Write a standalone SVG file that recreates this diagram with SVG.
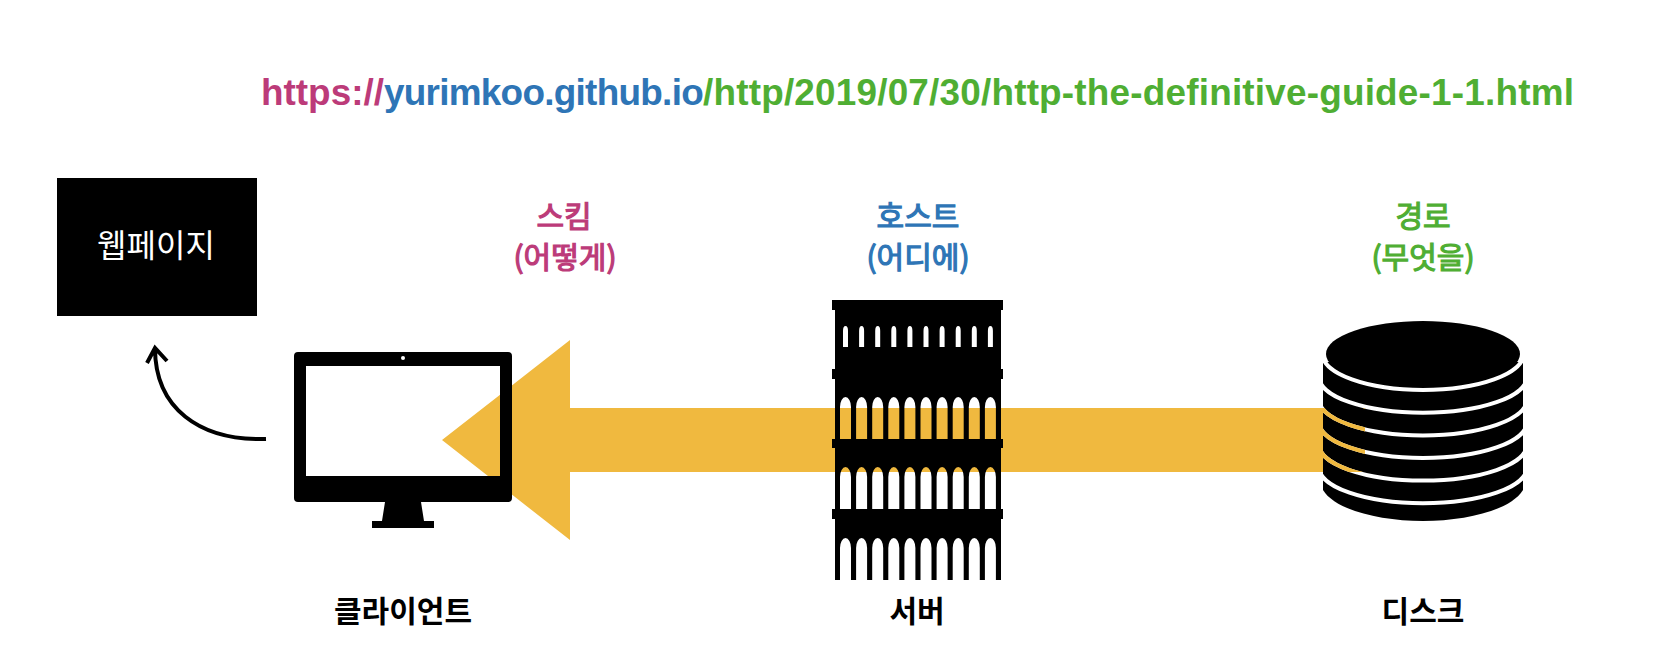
<svg xmlns="http://www.w3.org/2000/svg" width="1660" height="663" viewBox="0 0 1660 663">
<style>
text{font-family:"Noto Sans CJK KR","Liberation Sans",sans-serif;text-anchor:middle}
.url{font-family:"Liberation Sans",Arial,sans-serif;font-weight:700;font-size:36.9px;text-anchor:start}
.lab{font-size:30px;font-weight:400;stroke-width:1.2px}
.cap{font-size:30px;font-weight:700;fill:#000}
.pink{fill:#bc3b79;stroke:#bc3b79}.blue{fill:#2e75b6;stroke:#2e75b6}.green{fill:#4fae33;stroke:#4fae33}
.url .pink,.url .blue,.url .green{stroke:none}
.url .blue{letter-spacing:-.72px}.url .green{letter-spacing:.2px}
.ring{fill:none;stroke-width:4}
</style>
<defs>
<clipPath id="diskBody"><path d="M1323 362V490C1335 510 1380 521 1423 521S1511 510 1523 490V362Z"/></clipPath>
<clipPath id="bandClip"><rect x="1300" y="408" width="65" height="64"/></clipPath>
<g id="rings">
<path d="M1322.500 354A100.500 36 0 0 0 1523.500 354"/>
<path d="M1319 376.700A104 36 0 0 0 1527 376.700"/>
<path d="M1319 399.400A104 36 0 0 0 1527 399.400"/>
<path d="M1319 422A104 36 0 0 0 1527 422"/>
<path d="M1319 444.600A104 36 0 0 0 1527 444.600"/>
<path d="M1319 467.200A104 36 0 0 0 1527 467.200"/>
</g>
</defs>
<rect width="1660" height="663" fill="#fff"/>
<text class="url" x="261" y="105"><tspan class="pink">https://</tspan><tspan class="blue">yurimkoo.github.io</tspan><tspan class="green">/http/2019/07/30/http-the-definitive-guide-1-1.html</tspan></text>
<g id="connectors">
<path id="flow" fill="#f0b93f" d="M1340 408H570V340L442 440L570 540V472H1340Z"/>
<path id="result" fill="none" stroke="#000" stroke-width="4" d="M266 439C199 441 155 408 155 348M147 363L155 348L167 361"/>
</g>
<g id="webpage">
<rect x="57" y="178" width="200" height="138" fill="#000"/>
<text x="156" y="257" font-size="32" fill="#fff">웹페이지</text>
</g>
<g id="client">
<path fill="#000" fill-rule="evenodd" d="M298 352H508a4 4 0 0 1 4 4V498a4 4 0 0 1-4 4H298a4 4 0 0 1-4-4V356a4 4 0 0 1 4-4ZM306 366V476H500V366Z"/>
<circle cx="403" cy="358" r="2" fill="#fff"/>
<path fill="#000" d="M385 502H421L424 521H434V528H372V521H382Z"/>
<text class="cap" x="403" y="622">클라이언트</text>
</g>
<g id="scheme-label">
<text class="lab pink" x="564" y="227">스킴</text>
<text class="lab pink" x="565" y="268">(어떻게)</text>
</g>
<g id="server">
<path fill="#000" fill-rule="evenodd" d="M835 300H1001V580H835Z
M843 347V331a2.500 5 0 0 1 5 0V347ZM859.100 347V331a2.500 5 0 0 1 5 0V347ZM875.200 347V331a2.500 5 0 0 1 5 0V347ZM891.300 347V331a2.500 5 0 0 1 5 0V347ZM907.400 347V331a2.500 5 0 0 1 5 0V347ZM923.500 347V331a2.500 5 0 0 1 5 0V347ZM939.600 347V331a2.500 5 0 0 1 5 0V347ZM955.700 347V331a2.500 5 0 0 1 5 0V347ZM971.800 347V331a2.500 5 0 0 1 5 0V347ZM987.900 347V331a2.500 5 0 0 1 5 0V347Z
M840 439V407a5.500 10 0 0 1 11 0V439ZM856.100 439V407a5.500 10 0 0 1 11 0V439ZM872.200 439V407a5.500 10 0 0 1 11 0V439ZM888.300 439V407a5.500 10 0 0 1 11 0V439ZM904.400 439V407a5.500 10 0 0 1 11 0V439ZM920.500 439V407a5.500 10 0 0 1 11 0V439ZM936.600 439V407a5.500 10 0 0 1 11 0V439ZM952.700 439V407a5.500 10 0 0 1 11 0V439ZM968.800 439V407a5.500 10 0 0 1 11 0V439ZM984.900 439V407a5.500 10 0 0 1 11 0V439Z
M840 509V477a5.500 10 0 0 1 11 0V509ZM856.100 509V477a5.500 10 0 0 1 11 0V509ZM872.200 509V477a5.500 10 0 0 1 11 0V509ZM888.300 509V477a5.500 10 0 0 1 11 0V509ZM904.400 509V477a5.500 10 0 0 1 11 0V509ZM920.500 509V477a5.500 10 0 0 1 11 0V509ZM936.600 509V477a5.500 10 0 0 1 11 0V509ZM952.700 509V477a5.500 10 0 0 1 11 0V509ZM968.800 509V477a5.500 10 0 0 1 11 0V509ZM984.900 509V477a5.500 10 0 0 1 11 0V509Z
M840 580V548a5.500 10 0 0 1 11 0V580ZM856.100 580V548a5.500 10 0 0 1 11 0V580ZM872.200 580V548a5.500 10 0 0 1 11 0V580ZM888.300 580V548a5.500 10 0 0 1 11 0V580ZM904.400 580V548a5.500 10 0 0 1 11 0V580ZM920.500 580V548a5.500 10 0 0 1 11 0V580ZM936.600 580V548a5.500 10 0 0 1 11 0V580ZM952.700 580V548a5.500 10 0 0 1 11 0V580ZM968.800 580V548a5.500 10 0 0 1 11 0V580ZM984.900 580V548a5.500 10 0 0 1 11 0V580Z"/>
<path fill="#000" d="M832 300H1003V310H832ZM832 369H1003V379H832ZM832 439H1003V448H832ZM832 509H1003V519H832Z"/>
<text class="cap" x="917" y="622">서버</text>
</g>
<g id="host-label">
<text class="lab blue" x="918" y="227">호스트</text>
<text class="lab blue" x="918" y="268">(어디에)</text>
</g>
<g id="disk">
<path fill="#000" d="M1323 362V490C1335 510 1380 521 1423 521S1511 510 1523 490V362Z"/>
<g clip-path="url(#diskBody)">
<use href="#rings" class="ring" stroke="#fff"/>
<g clip-path="url(#bandClip)"><use href="#rings" class="ring" stroke="#f0b93f"/></g>
</g>
<ellipse cx="1423" cy="354" rx="97" ry="33" fill="#000"/>
<text class="cap" x="1423" y="622">디스크</text>
</g>
<g id="path-label">
<text class="lab green" x="1423" y="227">경로</text>
<text class="lab green" x="1423" y="268">(무엇을)</text>
</g>
</svg>
